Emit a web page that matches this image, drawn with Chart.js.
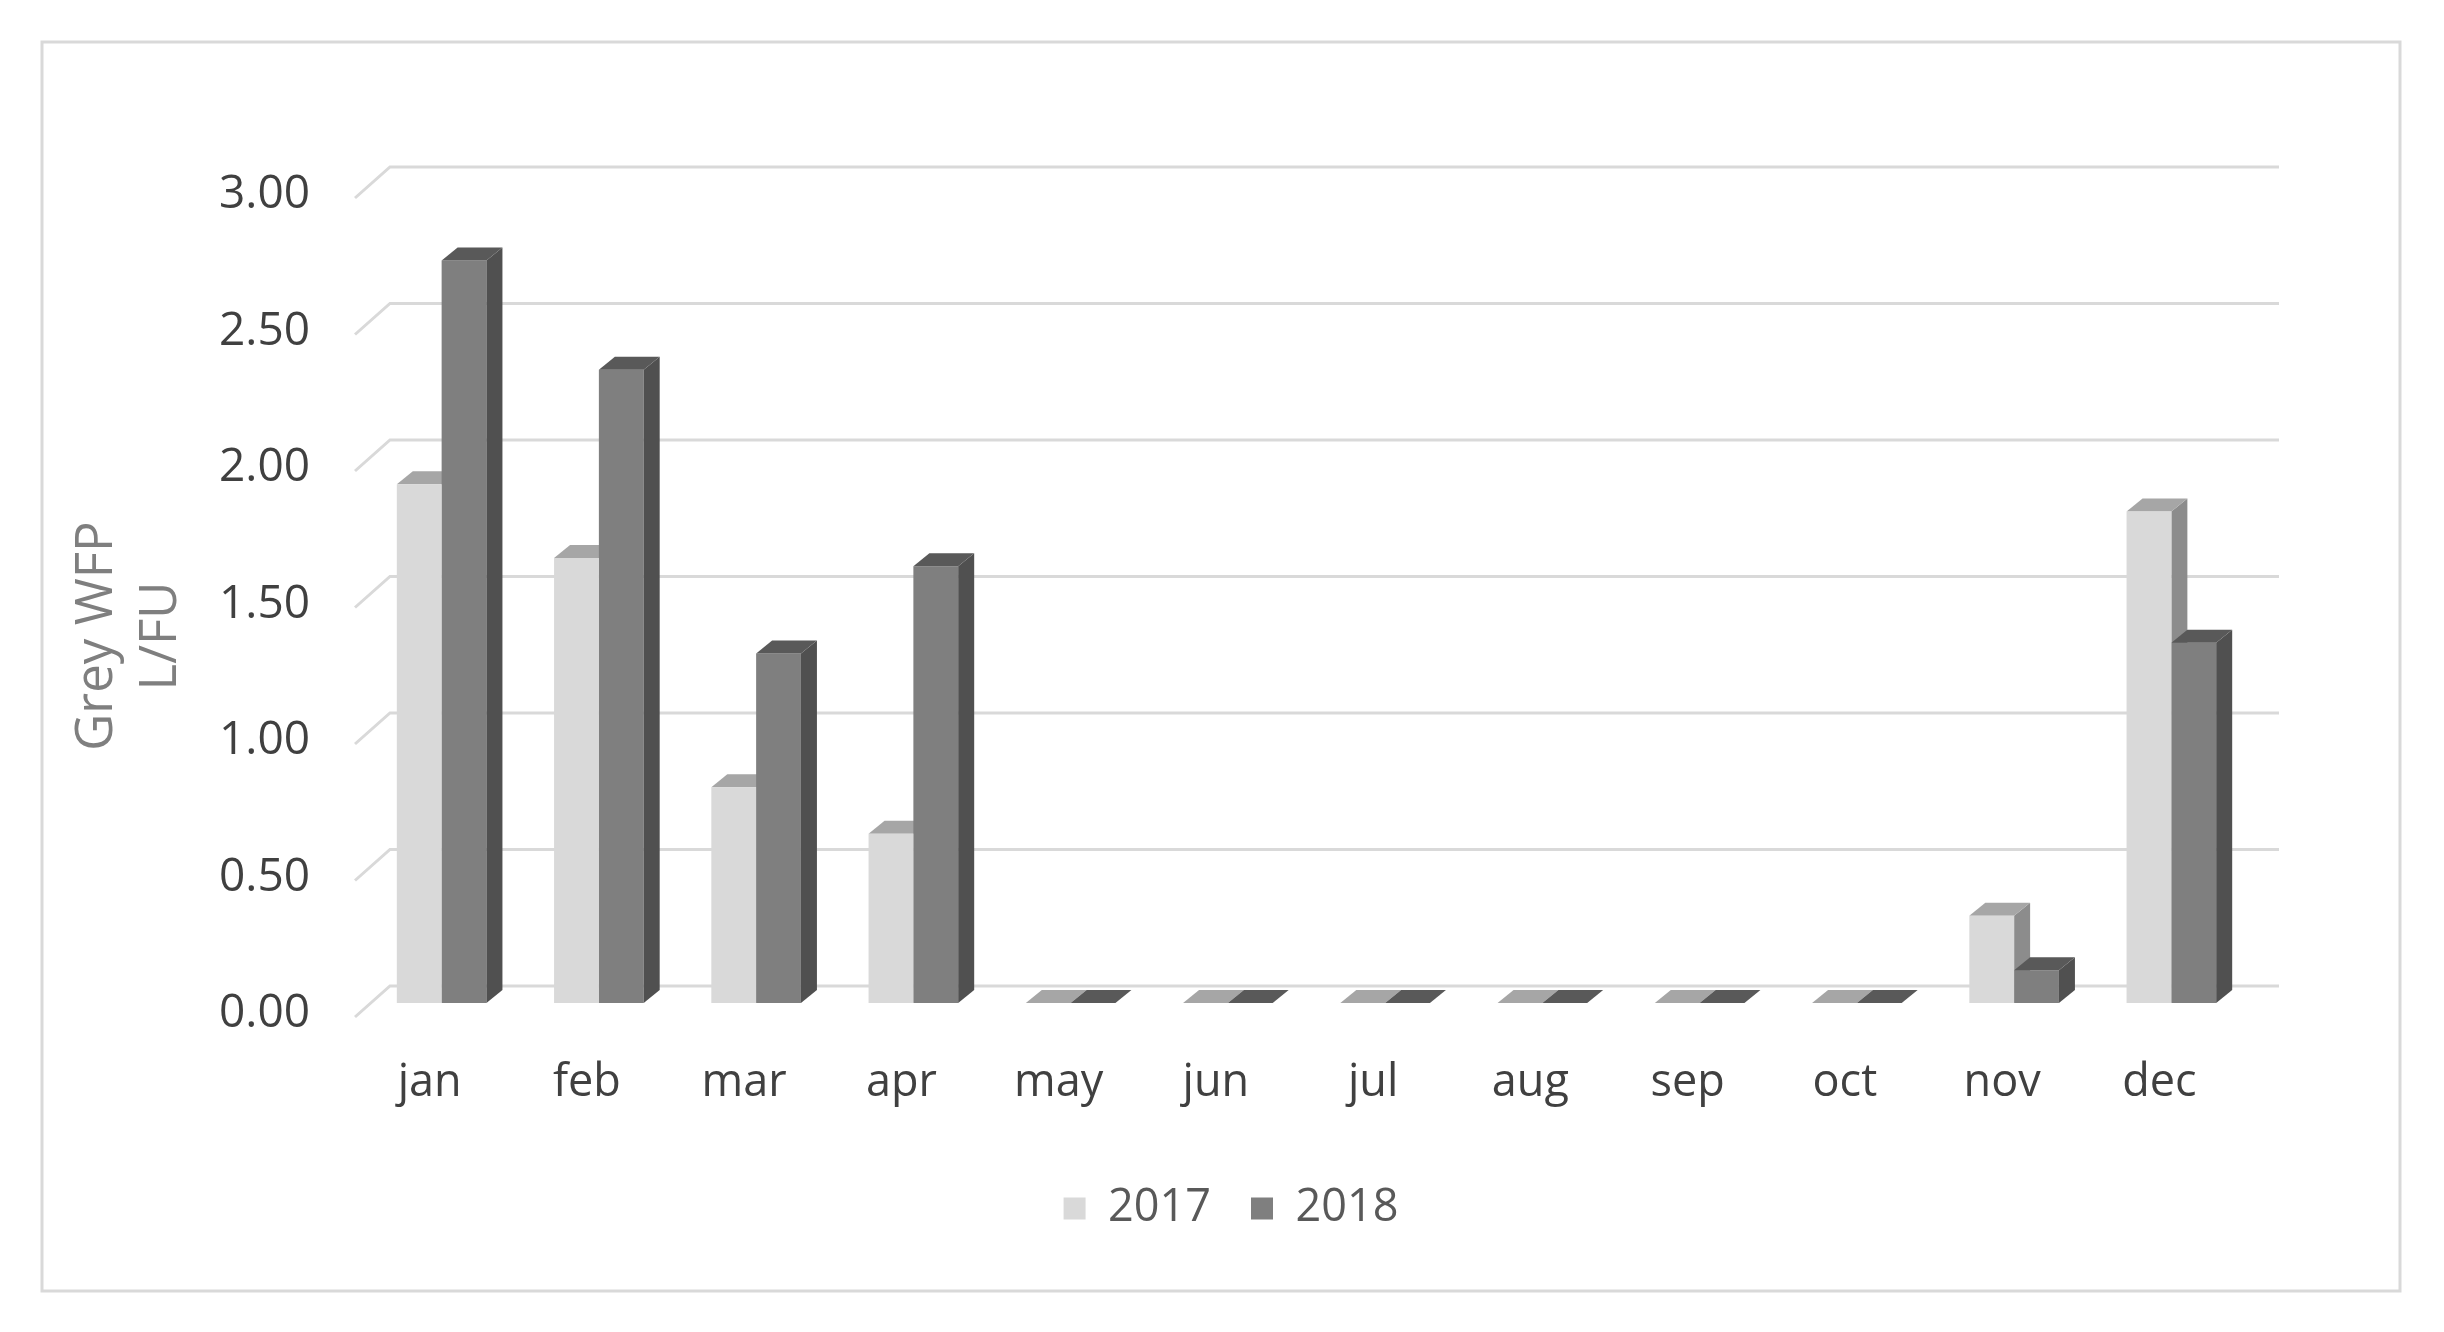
<!DOCTYPE html>
<html>
<head>
<meta charset="utf-8">
<script src="https://cdn.jsdelivr.net/npm/chart.js@4/dist/chart.umd.min.js"></script>
<style>
    html, body { margin: 0; padding: 0; background: #ffffff; }
    #chartWrapper { width: 2444px; height: 1332px; }
</style>
</head>
<body>
<div id="chartWrapper"><canvas id="barChart"></canvas></div>
<script>
var months = ['jan', 'feb', 'mar', 'apr', 'may', 'jun', 'jul', 'aug', 'sep', 'oct', 'nov', 'dec'];
var values2017 = [1.90, 1.63, 0.79, 0.62, 0, 0, 0, 0, 0, 0, 0.32, 1.80];
var values2018 = [2.72, 2.32, 1.28, 1.60, 0, 0, 0, 0, 0, 0, 0.12, 1.32];
var yTicks = [0, 0.5, 1, 1.5, 2, 2.5, 3];
var yTitle = ['Grey WFP', 'L/FU'];

var fontFamily = '"Open Sans", "Liberation Sans", sans-serif';

// depth of the fake 3d look
var depthX = 16;
var depthY = 13;

var faceColors = [
    { front: '#d9d9d9', top: '#a6a6a6', side: '#8c8c8c' },
    { front: '#7f7f7f', top: '#595959', side: '#505050' }
];

function drawDepth(chart, datasetIndex) {
    var ctx = chart.ctx;
    var meta = chart.getDatasetMeta(datasetIndex);
    var colors = faceColors[datasetIndex];
    meta.data.forEach(function(bar) {
        var p = bar.getProps(['x', 'y', 'base', 'width'], true);
        var left = p.x - p.width / 2;
        var right = p.x + p.width / 2;
        ctx.save();
        ctx.fillStyle = colors.side;
        ctx.beginPath();
        ctx.moveTo(right, p.y);
        ctx.lineTo(right + depthX, p.y - depthY);
        ctx.lineTo(right + depthX, p.base - depthY);
        ctx.lineTo(right, p.base);
        ctx.closePath();
        ctx.fill();
        ctx.fillStyle = colors.top;
        ctx.beginPath();
        ctx.moveTo(left, p.y);
        ctx.lineTo(left + depthX, p.y - depthY);
        ctx.lineTo(right + depthX, p.y - depthY);
        ctx.lineTo(right, p.y);
        ctx.closePath();
        ctx.fill();
        ctx.restore();
    });
}

var depthPlugin = {
    id: 'depthPlugin',
    beforeDraw: function(chart) {
        var ctx = chart.ctx;
        ctx.save();
        ctx.strokeStyle = '#d9d9d9';
        ctx.lineWidth = 3;
        ctx.strokeRect(42, 42, 2358, 1249);
        ctx.restore();
    },
    beforeDatasetsDraw: function(chart) {
        var ctx = chart.ctx;
        var area = chart.chartArea;
        var yScale = chart.scales.y;
        ctx.save();
        ctx.strokeStyle = '#d9d9d9';
        ctx.lineWidth = 3;
        yTicks.forEach(function(v) {
            var y = yScale.getPixelForValue(v);
            ctx.beginPath();
            ctx.moveTo(area.left - 8, y + 14);
            ctx.lineTo(area.left + 27, y - 17);
            ctx.lineTo(area.right + 29, y - 17);
            ctx.stroke();
        });
        ctx.restore();
        drawDepth(chart, 0);
    },
    afterDatasetsDraw: function(chart) {
        drawDepth(chart, 1);
    },
    afterDraw: function(chart) {
        // axis title, placed a little below the axis centre like the original
        var ctx = chart.ctx;
        ctx.save();
        ctx.translate(97, 636);
        ctx.rotate(-Math.PI / 2);
        ctx.fillStyle = '#7f7f7f';
        ctx.font = '51px ' + fontFamily;
        ctx.textAlign = 'center';
        ctx.textBaseline = 'middle';
        ctx.fillText(yTitle[0], 0, 0);
        ctx.fillText(yTitle[1], 0, 64);
        ctx.restore();
    }
};

var data = {
    labels: months,
    datasets: [{
            label: '2017',
            data: values2017,
            backgroundColor: faceColors[0].front,
            borderWidth: 0
        },
        {
            label: '2018',
            data: values2018,
            backgroundColor: faceColors[1].front,
            borderWidth: 0
        }
    ]
};

var config = {
    type: 'bar',
    data: data,
    options: {
        responsive: false,
        animation: false,
        layout: {
            padding: { left: 60, right: 42, top: 184, bottom: 91 }
        },
        datasets: {
            bar: {
                categoryPercentage: 0.57,
                barPercentage: 1.0
            }
        },
        scales: {
            x: {
                grid: { display: false },
                border: { display: false },
                ticks: {
                    color: '#404040',
                    font: { family: fontFamily, size: 45 },
                    padding: 45,
                    labelOffset: -12,
                    maxRotation: 0
                },
                afterFit: function(scale) {
                    scale.height = 143;
                }
            },
            y: {
                min: 0,
                max: 3,
                grid: { display: false },
                border: { display: false },
                ticks: {
                    stepSize: 0.5,
                    color: '#404040',
                    font: { family: fontFamily, size: 46 },
                    padding: 45,
                    labelOffset: 11,
                    callback: function(value) {
                        return Number(value).toFixed(2);
                    }
                },
                afterFit: function(scale) {
                    scale.width = 303;
                }
            },
            // empty right side space so the legend stays centred on the page
            spacer: {
                type: 'linear',
                position: 'right',
                grid: { display: false },
                border: { display: false },
                ticks: { display: false },
                afterFit: function(scale) {
                    scale.width = 152;
                }
            }
        },
        plugins: {
            legend: {
                position: 'bottom',
                labels: {
                    color: '#595959',
                    font: { family: fontFamily, size: 45 },
                    boxWidth: 22,
                    boxHeight: 22,
                    padding: 40
                }
            },
            tooltip: { enabled: false }
        }
    },
    plugins: [depthPlugin]
};

var canvas = document.getElementById('barChart');
canvas.width = 2444;
canvas.height = 1332;
var myChart = new Chart(canvas, config);
</script>
</body>
</html>
